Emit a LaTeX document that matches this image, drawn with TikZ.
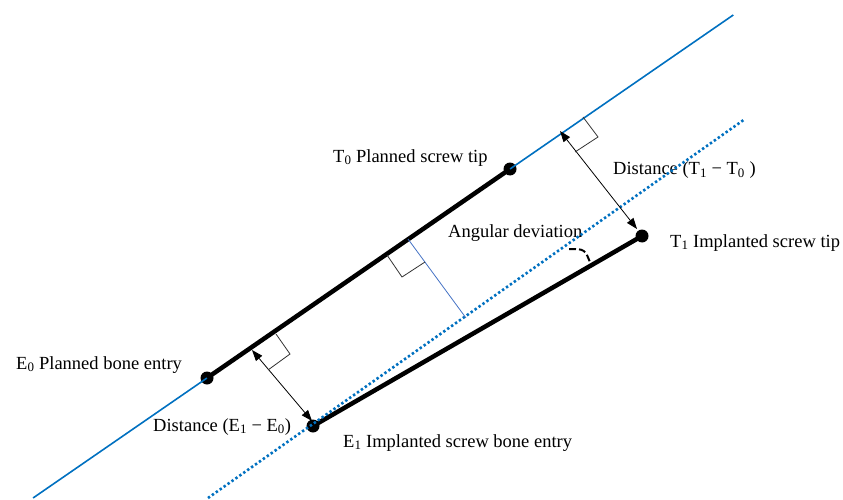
\documentclass[tikz,border=0pt]{standalone}
\usepackage{fontspec}
\setmainfont{Liberation Serif}
\usetikzlibrary{arrows.meta,calc}
\definecolor{axisblue}{RGB}{0,112,192}
\definecolor{lightblue}{RGB}{68,114,196}
\begin{document}
\begin{tikzpicture}[x=1pt,y=-1pt,
  lbl/.style={anchor=base west,inner sep=0pt,font=\fontsize{18.5}{22}\selectfont},
  screw/.style={line width=4.5pt},
  planned/.style={axisblue,line width=1.6pt},
  shifted/.style={axisblue,line width=2.6pt,dash pattern=on 2.4pt off 2.4pt},
  dist/.style={line width=0.8pt,{Triangle[length=11pt,width=8pt]}-{Triangle[length=11pt,width=8pt]}},
  rightangle/.style={line width=0.8pt,black!80},
  pt/.style={circle,fill=black,inner sep=0pt,minimum size=13pt}]
\useasboundingbox (0,0) rectangle (843,500);
% labels
\node[lbl] (lT0) at (333,162) {T\textsubscript{0} Planned screw tip};
\node[lbl] (lE0) at (16,369) {E\textsubscript{0} Planned bone entry};
\node[lbl] (lDE) at (153,431) {Distance (E\textsubscript{1} − E\textsubscript{0})};
\node[lbl] (lE1) at (343,447) {E\textsubscript{1} Implanted screw bone entry};
\node[lbl] (lAD) at (448,237) {Angular deviation};
\node[lbl] (lDT) at (613,175) {Distance (T\textsubscript{1} − T\textsubscript{0} )};
\node[lbl] (lT1) at (670,247) {T\textsubscript{1} Implanted screw tip};
% points
\node[pt] (E0) at (207,378) {};
\node[pt] (T0) at (510,169) {};
\node[pt] (E1) at (313,426) {};
\node[pt] (T1) at (642,236) {};
\coordinate (pA) at ($(E0.center)!-0.574!(T0.center)$);
\coordinate (pB) at ($(E0.center)!1.737!(T0.center)$);
\coordinate (qA) at (208,498);
\coordinate (qB) at (745,119);
% planned axis
\draw[planned] (pA) -- (pB);
% screws
\draw[screw] (E0.center) -- (T0.center);
\draw[screw] (E1.center) -- (T1.center);
% shifted planned axis through E1
\draw[shifted] (qA) -- (qB);
% middle perpendicular
\coordinate (m1) at (408,239);
\coordinate (m2) at (466,318);
\draw[lightblue,line width=0.8pt] (m1) -- (m2);
\coordinate (ma) at (387,255);
\coordinate (mb) at (402,277);
\coordinate (mc) at (425,262);
\draw[rightangle] (ma) -- (mb) -- (mc);
% distance E
\coordinate (dE1) at (252,350);
\coordinate (dE2) at (312,421);
\draw[dist] (dE1) -- (dE2);
\coordinate (ea) at (276,334);
\coordinate (eb) at (290,354);
\coordinate (ec) at (268,370);
\draw[rightangle] (ea) -- (eb) -- (ec);
% distance T
\coordinate (dT1) at (560,131);
\coordinate (dT2) at (637,229);
\draw[dist] (dT1) -- (dT2);
\coordinate (ta) at (583,117);
\coordinate (tb) at (598,137);
\coordinate (tc) at (575,152);
\draw[rightangle] (ta) -- (tb) -- (tc);
% angle mark
\coordinate (a1) at (569,249);
\coordinate (a2) at (591,265);
\draw[line width=2pt,dash pattern=on 7pt off 3pt] (a1) .. controls (585,249) .. (a2);
\end{tikzpicture}
\end{document}
